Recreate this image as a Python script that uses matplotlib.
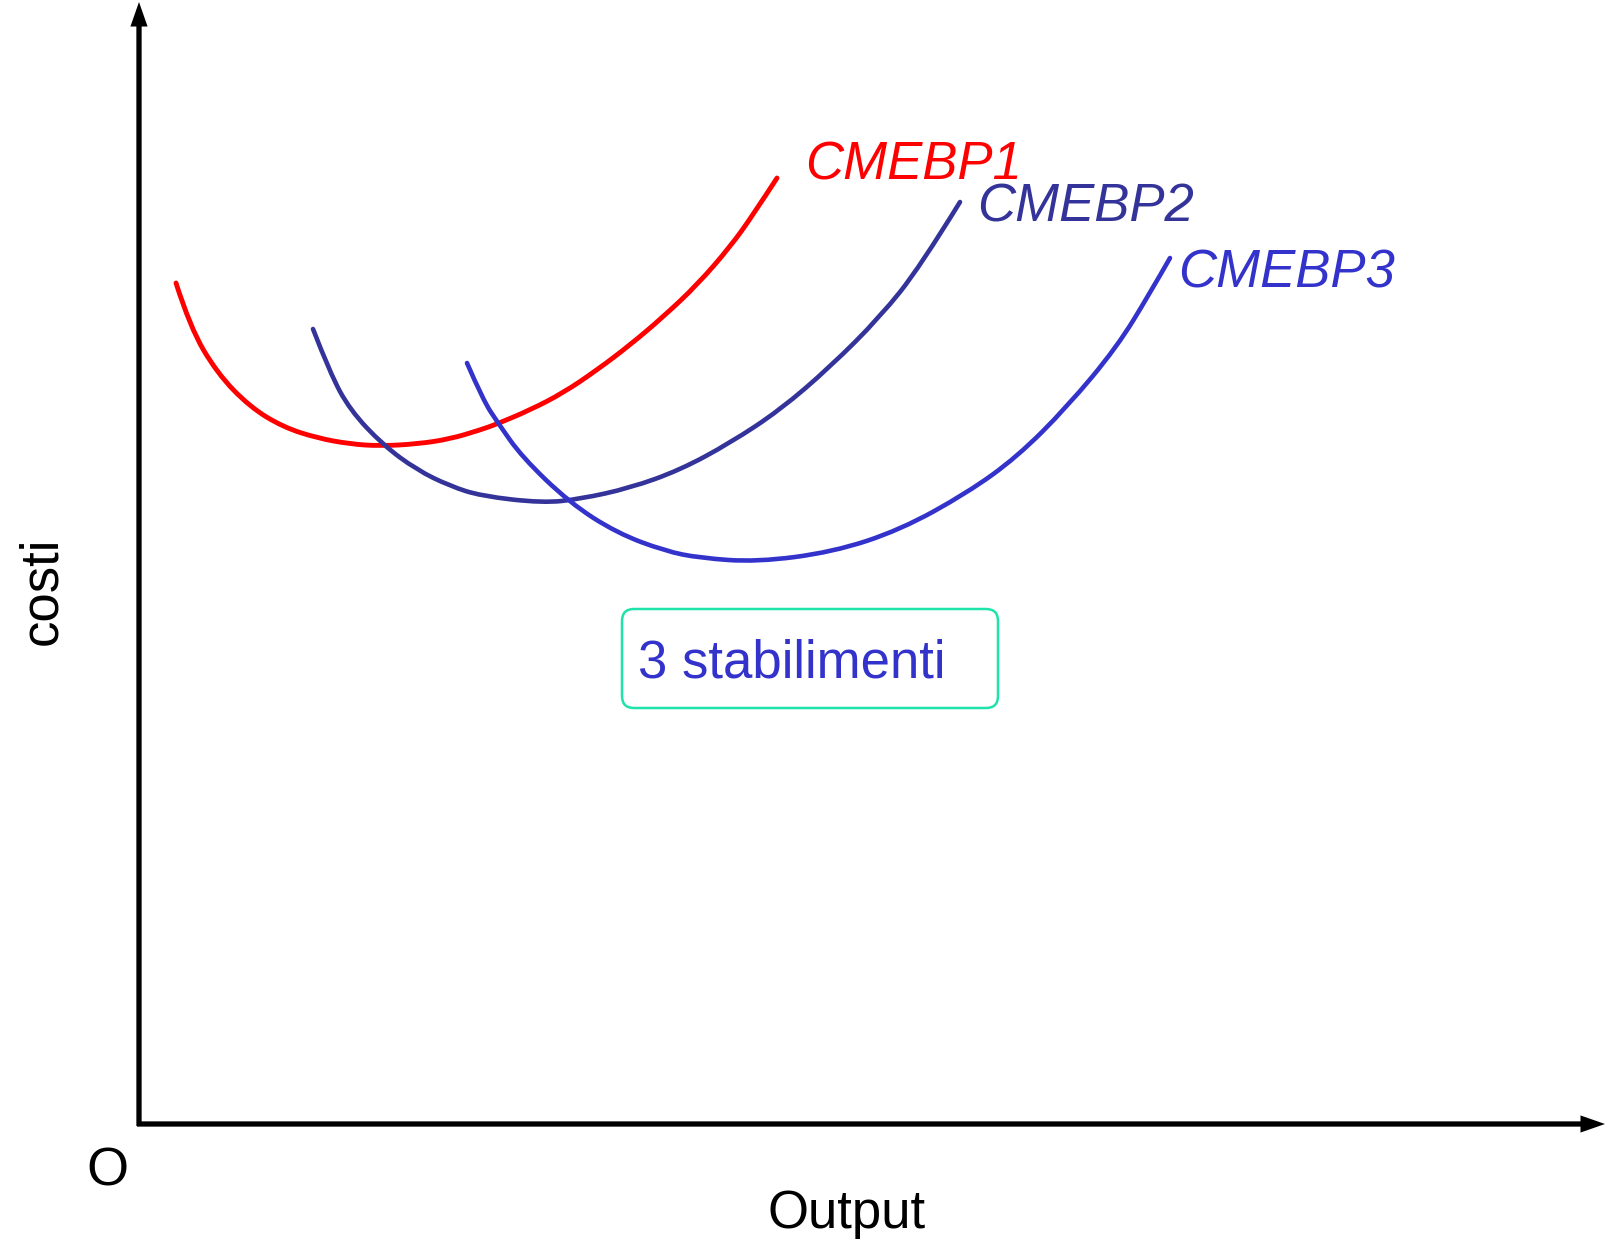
import matplotlib
matplotlib.use("Agg")
import matplotlib.pyplot as plt
from matplotlib.patches import FancyBboxPatch, PathPatch
from matplotlib.path import Path

# Curve points (output, cost); origin at axes corner
cmebp1_x = [37, 51, 78, 111, 144, 178, 211, 241, 278, 311, 341, 358, 391, 424, 458, 491, 524, 558, 591, 614, 638]
cmebp1_y = [841, 797, 751, 717, 697, 686, 680, 678, 680, 685, 694, 700, 714, 731, 754, 779, 807, 839, 877, 909, 946]

cmebp2_x = [174, 191, 211, 244, 278, 311, 342, 404, 441, 491, 541, 591, 641, 691, 741, 781, 821]
cmebp2_y = [795, 751, 714, 679, 654, 638, 628, 621, 625, 636, 654, 681, 714, 757, 807, 857, 922]

cmebp3_x = [328, 344, 359, 383, 431, 478, 526, 561, 618, 694, 761, 828, 878, 928, 978, 1011, 1031]
cmebp3_y = [761, 724, 701, 667, 621, 591, 573, 566, 562, 572, 594, 631, 667, 717, 777, 831, 866]

labels = ["CMEBP1", "CMEBP2", "CMEBP3"]
colors = ["#ff0000", "#333399", "#3333cc"]
line_widths = [3.5, 3.3, 3.3]
box_text = "3 stabilimenti"
x_label = "Output"
y_label = "costi"
origin_label = "O"

plt.rcParams['font.family'] = ['Liberation Sans', 'DejaVu Sans']

fig = plt.figure(figsize=(16.05, 12.45), dpi=100)
ax = fig.add_axes([0, 0, 1, 1])
ax.set_xlim(-139, 1466)
ax.set_ylim(-121, 1124)
ax.axis('off')

# axes with arrows
arrow_kw = dict(arrowstyle='-|>,head_length=1.0,head_width=0.35', lw=3.8,
                color='black', shrinkA=0, shrinkB=0, joinstyle='miter', capstyle='butt')
ax.annotate('', xy=(1466, 0), xytext=(-2, 0), arrowprops=arrow_kw)
ax.annotate('', xy=(0, 1122), xytext=(0, -2), arrowprops=arrow_kw)


def smooth_path(xs, ys):
    """Quadratic B-spline path using the read points as control points."""
    pts = list(zip(xs, ys))
    verts = [pts[0]]
    codes = [Path.MOVETO]
    n = len(pts)
    for i in range(1, n - 1):
        if i < n - 2:
            end = ((pts[i][0] + pts[i + 1][0]) / 2, (pts[i][1] + pts[i + 1][1]) / 2)
        else:
            end = pts[-1]
        verts += [pts[i], end]
        codes += [Path.CURVE3, Path.CURVE3]
    return Path(verts, codes)


series = [(cmebp1_x, cmebp1_y), (cmebp2_x, cmebp2_y), (cmebp3_x, cmebp3_y)]
for (xs, ys), c, lw in zip(series, colors, line_widths):
    ax.add_patch(PathPatch(smooth_path(xs, ys), fc='none', ec=c, lw=lw,
                           capstyle='round', joinstyle='round'))

label_pos = [(666, 944), (838, 903), (1039, 837)]
for (lx, ly), lab, c in zip(label_pos, labels, colors):
    ax.text(lx, ly, lab, color=c, fontsize=38, style='italic', ha='left', va='baseline')

box = FancyBboxPatch((483, 416), 376, 99, boxstyle='round,pad=0,rounding_size=12',
                     fc='white', ec='#1ee3aa', lw=1.8)
ax.add_patch(box)
ax.text(499, 446, box_text, color='#3333cc', fontsize=38, ha='left', va='baseline')

ax.text(708, -104, x_label, fontsize=38, ha='center', va='baseline', color='black')
ax.text(-97, 533, y_label, fontsize=38, ha='center', va='center', rotation=90, color='black')
ax.text(-32, -61, origin_label, fontsize=39, ha='center', va='baseline', color='black')

fig.savefig('out.png', dpi=100)
